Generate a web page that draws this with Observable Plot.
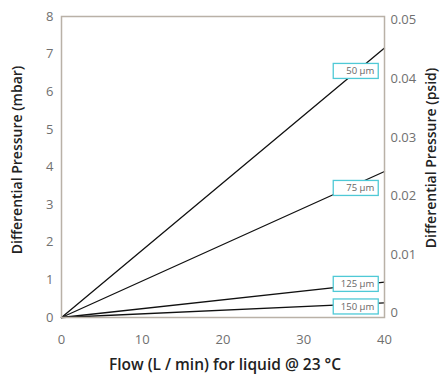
<!DOCTYPE html>
<html>
<head>
<meta charset="utf-8">
<script src="https://cdn.jsdelivr.net/npm/d3@7"></script>
<script src="https://cdn.jsdelivr.net/npm/@observablehq/plot@0.6"></script>
<style>
  html, body { margin: 0; padding: 0; background: #fff; }
  #chart svg { display: block; }
</style>
</head>
<body>
<div id="chart"></div>
<script>
// Data
const series = ["50 µm", "75 µm", "125 µm", "150 µm"];
const flowStart = [0, 0, 0, 0];
const flowEnd = [40, 40, 40, 40];
const pressureEnd = [7.16, 3.88, 0.94, 0.39];   // mbar at 40 L/min
const labelFlow = [36.5, 36.5, 36.5, 36.5];
const labelPressure = [6.54, 3.43, 0.88, 0.28];
const xTicks = [0, 10, 20, 30, 40];
const yTicks = [0, 1, 2, 3, 4, 5, 6, 7, 8];
const psidTicks = [0, 0.01, 0.02, 0.03, 0.04, 0.05];
// secondary axis placement (psid -> mbar-equivalent position on the chart)
const psidZeroAt = 0.12, psidFullAt = 7.9, psidFull = 0.05;

const lines = [];
series.forEach((s, i) => {
  lines.push({s, x: flowStart[i], y: 0});
  lines.push({s, x: flowEnd[i], y: pressureEnd[i]});
});
const labels = series.map((s, i) => ({s, x: labelFlow[i], y: labelPressure[i]}));
const toPos = p => psidZeroAt + p / psidFull * (psidFullAt - psidZeroAt);

const frameColor = "#b9b1a7";
const tickColor = "#707070";
const tickFont = "'Open Sans', 'Noto Sans', sans-serif";

const chart = Plot.plot({
  width: 443,
  height: 381,
  marginTop: 16,
  marginBottom: 64,
  marginLeft: 61,
  marginRight: 59,
  style: {fontFamily: tickFont, fontSize: "13px", color: tickColor, background: "#fff"},
  x: {domain: [0, 40], label: null},
  y: {domain: [0, 8], label: null},
  marks: [
    Plot.line(lines, {x: "x", y: "y", z: "s", stroke: "#111", strokeWidth: 1.3}),
    Plot.frame({stroke: frameColor, strokeWidth: 1.5}),
    Plot.text(labels, {
      x: "x", y: "y", text: "s",
      dx: 18, textAnchor: "end",
      fill: "#666", fontSize: 9.5
    }),
    // left axis
    Plot.axisY(yTicks, {anchor: "left", tickSize: 0, tickPadding: 8, fontSize: 13, fill: tickColor, label: null}),
    // bottom axis
    Plot.axisX(xTicks, {anchor: "bottom", tickSize: 0, tickPadding: 17, fontSize: 13, fill: tickColor, label: null}),
    // right axis (psid)
    Plot.text(psidTicks, {
      x: 40, y: d => toPos(d), text: d => d === 0 ? "0" : d.toFixed(2),
      dx: 6, textAnchor: "start", fill: tickColor, fontSize: 13
    })
  ]
});

document.getElementById("chart").appendChild(chart);
const svg = d3.select(chart);

// Boxes behind the series labels, positioned with the plot's scales
const xs = chart.scale("x"), ys = chart.scale("y");
const textGroups = chart.querySelectorAll("g[aria-label='text']");
const boxG = svg.insert("g", () => textGroups[0]);
labels.forEach(d => {
  const cx = xs.apply(d.x), cy = ys.apply(d.y);
  boxG.append("rect")
    .attr("x", cx - 22.5).attr("y", cy - 7.5)
    .attr("width", 45).attr("height", 15)
    .attr("fill", "#fff").attr("stroke", "#4fc9d6").attr("stroke-width", 1.3);
});

// Axis titles
const titleFont = "'Open Sans', 'Noto Sans', sans-serif";
svg.append("text")
  .attr("transform", "translate(18,160) rotate(-90)")
  .attr("text-anchor", "middle").attr("dominant-baseline", "middle")
  .attr("font-family", titleFont).attr("font-size", 14).attr("font-weight", 600)
  .attr("fill", "#222").text("Differential Pressure (mbar)");
svg.append("text")
  .attr("transform", "translate(432,158) rotate(-90)")
  .attr("text-anchor", "middle").attr("dominant-baseline", "middle")
  .attr("font-family", titleFont).attr("font-size", 14).attr("font-weight", 600)
  .attr("fill", "#222").text("Differential Pressure (psid)");
svg.append("text")
  .attr("x", 225).attr("y", 366)
  .attr("text-anchor", "middle").attr("dominant-baseline", "middle")
  .attr("font-family", titleFont).attr("font-size", 15.5).attr("font-weight", 600)
  .attr("fill", "#222").text("Flow (L / min) for liquid @ 23 °C");
</script>
</body>
</html>
